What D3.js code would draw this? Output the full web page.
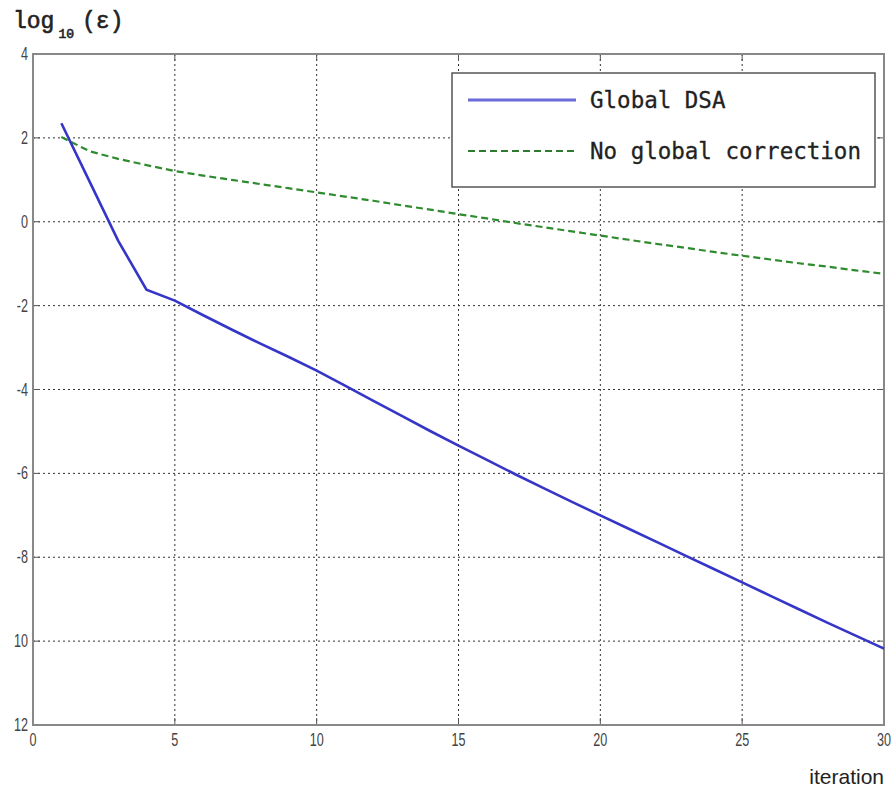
<!DOCTYPE html>
<html><head><meta charset="utf-8">
<script src="https://cdn.jsdelivr.net/npm/d3@7"></script>
<style>body{margin:0;background:#fff}</style>
</head><body>
<svg id="c" width="894" height="792"></svg>
<script>
const iterations = [1,2,3,4,5,6,7,8,9,10,11,12,13,14,15,16,17,18,19,20,21,22,23,24,25,26,27,28,29,30];
const globalDSA = [2.35,0.95,-0.45,-1.62,-1.88,-2.23,-2.57,-2.9,-3.22,-3.55,-3.91,-4.27,-4.63,-4.99,-5.34,-5.68,-6.02,-6.35,-6.68,-7.0,-7.32,-7.64,-7.96,-8.28,-8.6,-8.92,-9.24,-9.56,-9.87,-10.18];
const noGlobal = [2.02,1.68,1.5,1.35,1.21,1.1,1.0,0.9,0.8,0.7,0.6,0.5,0.39,0.29,0.18,0.08,-0.03,-0.13,-0.23,-0.33,-0.43,-0.53,-0.62,-0.72,-0.81,-0.9,-0.99,-1.07,-1.16,-1.24];
const xTicks = [0,5,10,15,20,25,30];
const yTicks = [4,2,0,-2,-4,-6,-8,-10,-12];
const yTickLabels = ["4","2","0","-2","-4","-6","-8","10","12"];
const seriesNames = ["Global DSA","No global correction"];

const svg = d3.select("#c");
const L=33,R=884,T=54,B=725;
const x = d3.scaleLinear().domain([0,30]).range([L,R]);
const y = d3.scaleLinear().domain([-12,4]).range([B,T]);

// grid
const g = svg.append("g");
g.selectAll(".vg").data(xTicks.slice(1,-1)).join("line")
  .attr("x1",d=>x(d)).attr("x2",d=>x(d)).attr("y1",T).attr("y2",B)
  .attr("stroke","#333").attr("stroke-width",1).attr("stroke-dasharray","2,3");
g.selectAll(".hg").data(yTicks.slice(1,-1)).join("line")
  .attr("y1",d=>y(d)).attr("y2",d=>y(d)).attr("x1",L).attr("x2",R)
  .attr("stroke","#333").attr("stroke-width",1).attr("stroke-dasharray","2,3");

// ticks inside
g.selectAll(".xt").data(xTicks).join("line")
  .attr("x1",d=>x(d)).attr("x2",d=>x(d)).attr("y1",B).attr("y2",B-7).attr("stroke","#555");
g.selectAll(".xt2").data(xTicks).join("line")
  .attr("x1",d=>x(d)).attr("x2",d=>x(d)).attr("y1",T).attr("y2",T+7).attr("stroke","#555");
g.selectAll(".yt").data(yTicks).join("line")
  .attr("y1",d=>y(d)).attr("y2",d=>y(d)).attr("x1",L).attr("x2",L+7).attr("stroke","#555");
g.selectAll(".yt2").data(yTicks).join("line")
  .attr("y1",d=>y(d)).attr("y2",d=>y(d)).attr("x1",R).attr("x2",R-7).attr("stroke","#555");

// frame
svg.append("rect").attr("x",L).attr("y",T).attr("width",R-L).attr("height",B-T)
  .attr("fill","none").attr("stroke","#888").attr("stroke-width",2);

// tick labels
svg.selectAll(".xl").data(xTicks).join("text")
  .attr("transform",d=>`translate(${x(d)},${B+21}) scale(0.7,1)`)
  .attr("text-anchor","middle").attr("font-family","Liberation Sans, Arial, sans-serif")
  .attr("font-size",18).attr("fill","#444").text(d=>d);
svg.selectAll(".yl").data(yTicks).join("text")
  .attr("transform",d=>`translate(${L-5},${y(d)+6}) scale(0.7,1)`)
  .attr("text-anchor","end").attr("font-family","Liberation Sans, Arial, sans-serif")
  .attr("font-size",18).attr("fill","#444").text((d,i)=>yTickLabels[i]);

// lines
const line = d3.line().x((d,i)=>x(iterations[i])).y(d=>y(d));
svg.append("path").datum(noGlobal).attr("d",line).attr("fill","none")
  .attr("stroke","#2e8b2e").attr("stroke-width",2.2).attr("stroke-dasharray","7,4");
svg.append("path").datum(globalDSA).attr("d",line).attr("fill","none")
  .attr("stroke","#3535c8").attr("stroke-width",2.6);

// legend
const lg = svg.append("g");
lg.append("rect").attr("x",452).attr("y",73).attr("width",423).attr("height",114)
  .attr("fill","#fff").attr("stroke","#555").attr("stroke-width",1.5);
lg.append("line").attr("x1",468).attr("x2",576).attr("y1",100).attr("y2",100)
  .attr("stroke","#6b6bdc").attr("stroke-width",3);
lg.append("line").attr("x1",468).attr("x2",576).attr("y1",151).attr("y2",151)
  .attr("stroke","#2e7a2e").attr("stroke-width",2.2).attr("stroke-dasharray","7,4");
lg.selectAll(".lt").data(seriesNames).join("text")
  .attr("x",590).attr("y",(d,i)=>[108,159][i])
  .attr("font-family","DejaVu Sans Mono, monospace").attr("font-size",22.5)
  .attr("fill","#222").attr("stroke","#222").attr("stroke-width",0.3).text(d=>d);

// axis titles
const yt = svg.append("text").attr("x",13).attr("y",28)
  .attr("font-family","Liberation Mono, DejaVu Sans Mono, monospace").attr("font-size",23)
  .attr("fill","#222").attr("stroke","#222").attr("stroke-width",0.6);
yt.append("tspan").text("log");
yt.append("tspan").attr("font-size",13).attr("dy",10).attr("dx",4).text("10");
yt.append("tspan").attr("dy",-10).attr("dx",8).text("(ε)");

svg.append("text").attr("x",884).attr("y",784).attr("text-anchor","end")
  .attr("font-family","Liberation Sans, Arial, sans-serif").attr("font-size",21)
  .attr("fill","#222").text("iteration");
</script>
</body></html>
